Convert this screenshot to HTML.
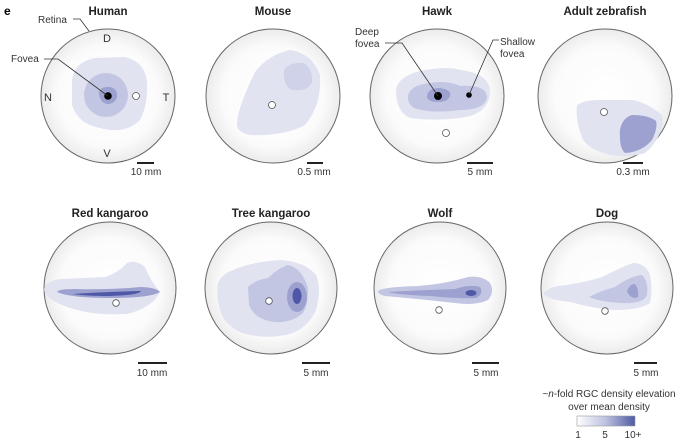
<!DOCTYPE html>
<html><head><meta charset="utf-8"><style>
html,body{margin:0;padding:0;background:#fff;}
svg{display:block;font-family:"Liberation Sans",sans-serif;}
.t{font-weight:bold;font-size:11.5px;text-anchor:middle;fill:#222;}
.s{font-size:10px;text-anchor:middle;fill:#333;}
.l{font-size:10px;fill:#333;}
.c{stroke:#666;stroke-width:1;fill:url(#g);}
.a{fill:#e2e3f1;}
.b{fill:#c3c6e3;}
.d{fill:#9ca1d0;}
.e{fill:#4f58a6;}
.w{fill:#fff;stroke:#555;stroke-width:0.8;}
.bar{stroke:#222;stroke-width:2;}
.ln{stroke:#333;stroke-width:0.8;fill:none;}
</style></head><body>
<svg width="687" height="440" viewBox="0 0 687 440">
<defs>
<radialGradient id="g" cx="50%" cy="50%" r="50%">
<stop offset="0" stop-color="#ffffff"/><stop offset="0.75" stop-color="#fbfbfb"/><stop offset="1" stop-color="#ececec"/>
</radialGradient>
<linearGradient id="lg" x1="0" x2="1"><stop offset="0" stop-color="#ffffff"/><stop offset="0.5" stop-color="#bcc0e0"/><stop offset="1" stop-color="#4f5aa4"/></linearGradient>
</defs>
<text x="4" y="15" style="font-weight:bold;font-size:12px;">e</text>
<!-- Human -->
<text class="t" x="108" y="15">Human</text>
<circle class="c" cx="108" cy="96" r="67"/>
<path class="a" d="M72,80 Q74,62 95,58 L125,57 Q145,62 147,82 Q148,105 140,120 Q125,135 100,128 Q78,124 72,105 Z"/>
<circle class="b" cx="106" cy="95" r="22"/>
<path class="d" d="M99,92 Q101,86 110,87 Q118,89 117,97 Q115,104 107,104 Q99,102 99,92 Z"/>
<circle cx="108" cy="96" r="3.8" fill="#000"/>
<circle class="w" cx="136" cy="96" r="3.5"/>
<text class="l" x="38" y="23">Retina</text>
<path class="ln" d="M73,19 L80,19 L89,31"/>
<text class="l" x="11" y="62">Fovea</text>
<path class="ln" d="M44,59 L58,59 L108,96"/>
<text class="s" x="107" y="42" style="font-size:11px">D</text>
<text class="s" x="48" y="101" style="font-size:11px">N</text>
<text class="s" x="166" y="101" style="font-size:11px">T</text>
<text class="s" x="107" y="157" style="font-size:11px">V</text>
<line class="bar" x1="137" y1="163" x2="154" y2="163"/>
<text class="s" x="146" y="175">10 mm</text>
<!-- Mouse -->
<text class="t" x="273" y="15">Mouse</text>
<circle class="c" cx="273" cy="96" r="67"/>
<path class="a" d="M237,123 Q238,107 255,72 Q268,55 290,50 Q312,53 320,75 Q322,105 305,125 Q285,136 250,135 Q236,132 237,123 Z"/>
<path class="b" style="opacity:0.6" d="M284,70 Q290,62 303,63 Q313,68 312,82 Q308,92 292,90 Q283,86 284,70 Z"/>
<circle class="w" cx="272" cy="105" r="3.5"/>
<line class="bar" x1="307" y1="163" x2="323" y2="163"/>
<text class="s" x="314" y="175">0.5 mm</text>
<!-- Hawk -->
<text class="t" x="437" y="15">Hawk</text>
<circle class="c" cx="437" cy="96" r="67"/>
<path class="a" d="M396,90 Q398,75 425,70 Q450,66 460,70 Q488,73 490,90 Q490,110 470,116 Q445,122 410,118 Q396,112 396,90 Z"/>
<path class="b" d="M408,96 Q410,85 430,83 Q448,80 460,86 Q487,84 487,98 Q484,110 460,110 Q430,114 414,108 Q407,103 408,96 Z"/>
<path class="d" d="M427,96 Q428,88 440,88 Q452,90 450,96 Q448,102 438,102 Q427,102 427,96 Z"/>
<circle cx="438" cy="96" r="4" fill="#000"/>
<circle cx="469" cy="95" r="2.8" fill="#000"/>
<circle class="w" cx="446" cy="133" r="3.5"/>
<text class="l" x="355" y="35">Deep</text>
<text class="l" x="355" y="47">fovea</text>
<path class="ln" d="M385,43 L402,43 L438,96"/>
<text class="l" x="500" y="45">Shallow</text>
<text class="l" x="500" y="57">fovea</text>
<path class="ln" d="M499,40 L493,40 L469,95"/>
<line class="bar" x1="467" y1="163" x2="493" y2="163"/>
<text class="s" x="480" y="175">5 mm</text>
<!-- Zebrafish -->
<text class="t" x="605" y="15">Adult zebrafish</text>
<circle class="c" cx="605" cy="96" r="67"/>
<path class="a" d="M577,105 Q585,100 597,100 L633,100 Q648,103 662,115 Q664,125 660,133 Q655,145 645,153 Q630,158 610,155 Q590,150 583,140 Q575,120 577,105 Z"/>
<path class="d" d="M620,130 Q622,118 632,115 Q648,115 656,121 Q658,128 652,140 Q642,152 625,153 Q619,148 620,130 Z"/>
<circle class="w" cx="604" cy="112" r="3.5"/>
<line class="bar" x1="623" y1="163" x2="643" y2="163"/>
<text class="s" x="633" y="175">0.3 mm</text>
<!-- Red kangaroo -->
<text class="t" x="110" y="217">Red kangaroo</text>
<circle class="c" cx="110" cy="288" r="66"/>
<path class="a" d="M44,290 Q44,282 60,279 L105,277 Q118,273 127,263 Q135,259 145,267 Q150,280 160,292 Q152,308 127,314 Q95,316 70,308 Q46,300 44,290 Z"/>
<path class="d" d="M57,292 Q58,289 75,289 Q110,290 140,287 Q155,287 160,292 Q150,298 110,298 Q70,298 57,292 Z"/>
<path class="e" d="M73,294 Q100,292 141,291 Q140,295 110,296 Q85,296 73,294 Z"/>
<circle class="w" cx="116" cy="303" r="3.3"/>
<line class="bar" x1="138" y1="363" x2="167" y2="363"/>
<text class="s" x="152" y="376">10 mm</text>
<!-- Tree kangaroo -->
<text class="t" x="271" y="217">Tree kangaroo</text>
<circle class="c" cx="271" cy="288" r="66"/>
<path class="a" d="M218,283 Q222,274 233,270 Q250,262 281,260 Q305,262 316,275 Q322,290 316,310 Q308,328 290,334 Q265,340 242,333 Q224,325 220,310 Q216,295 218,283 Z"/>
<path class="b" d="M248,287 Q255,280 268,278 Q278,268 288,265 Q302,268 308,288 Q308,305 303,313 Q292,323 275,322 Q255,320 249,305 Z"/>
<ellipse class="d" cx="297" cy="297" rx="10" ry="15"/>
<ellipse class="e" cx="297" cy="296" rx="4.5" ry="8"/>
<circle class="w" cx="269" cy="301" r="3.3"/>
<line class="bar" x1="302" y1="363" x2="330" y2="363"/>
<text class="s" x="316" y="376">5 mm</text>
<!-- Wolf -->
<text class="t" x="440" y="217">Wolf</text>
<circle class="c" cx="440" cy="288" r="66"/>
<path class="b" d="M378,291 Q382,287 418,286 Q445,284 468,277 Q482,275 490,283 Q495,292 488,300 Q475,306 455,303 Q420,299 385,296 Q377,294 378,291 Z"/>
<path class="d" d="M388,292 Q420,290 455,289 Q470,284 480,287 Q484,294 476,298 Q460,299 430,296 Q400,295 388,292 Z"/>
<ellipse class="e" cx="471" cy="293" rx="5.5" ry="3"/>
<circle class="w" cx="439" cy="310" r="3.3"/>
<line class="bar" x1="472" y1="363" x2="499" y2="363"/>
<text class="s" x="486" y="376">5 mm</text>
<!-- Dog -->
<text class="t" x="607" y="217">Dog</text>
<circle class="c" cx="607" cy="288" r="66"/>
<path class="a" d="M543,293 Q550,286 567,285 Q590,281 602,277 Q622,267 633,263 Q646,263 650,275 Q653,290 650,303 Q640,310 615,310 Q590,308 571,302 Q547,300 543,293 Z"/>
<path class="b" d="M589,297 Q600,291 615,287 Q630,276 642,275 Q649,282 647,295 Q644,304 622,303 Q600,302 589,297 Z"/>
<path class="d" d="M627,292 Q629,284 635,284 Q639,289 638,297 Q632,300 627,292 Z"/>
<circle class="w" cx="605" cy="311" r="3.3"/>
<line class="bar" x1="634" y1="363" x2="657" y2="363"/>
<text class="s" x="646" y="376">5 mm</text>
<!-- Legend -->
<text class="s" x="609" y="397">~<tspan font-style="italic">n</tspan>-fold RGC density elevation</text>
<text class="s" x="609" y="410">over mean density</text>
<rect x="577" y="416" width="58" height="10" fill="url(#lg)" stroke="#999" stroke-width="0.6"/>
<text class="s" x="578" y="438">1</text>
<text class="s" x="605" y="438">5</text>
<text class="s" x="633" y="438">10+</text>
</svg>
</body></html>
